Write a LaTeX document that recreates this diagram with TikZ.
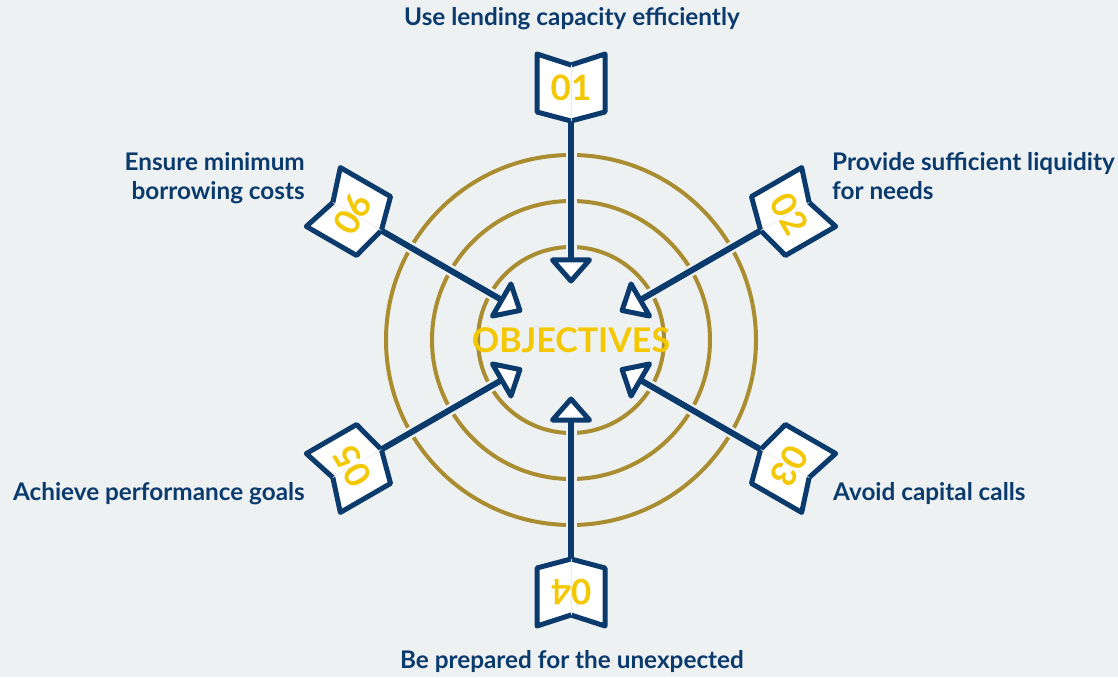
\documentclass[tikz,border=0pt]{standalone}
\usepackage{fontspec}
\setmainfont{Lato}
\definecolor{navy}{HTML}{0B3A6D}
\definecolor{ring}{HTML}{A98D30}
\definecolor{sunny}{HTML}{F4C800}
\definecolor{paper}{HTML}{EDF1F2}
\tikzset{
    label/.style={text=navy, font=\fontsize{24.3}{29}\selectfont\bfseries, inner sep=0pt},
    num/.style={text=sunny, font=\fontsize{35}{35}\selectfont\bfseries, inner sep=0pt, transform shape},
    banner/.style={draw=navy, fill=white, line width=5pt, line join=round},
    stem/.style={navy, line width=6pt},
    halo/.style={paper, line width=11pt}
}
\begin{document}
\begin{tikzpicture}[x=1pt, y=1pt]
        \useasboundingbox[fill=paper] (-571,-337) rectangle (547,340);

        % Rings
        \foreach \r in {93,139,185}
            \draw[ring, line width=4pt] (0,0) circle (\r);

        % Stems and open heads
        \foreach \a [count=\i] in {90,30,-30,-90,-150,150} {
            \coordinate (tip\i) at (\a:219);
            \coordinate (head\i) at (\a:80);
            \draw[halo] (tip\i) -- (head\i);
            \draw[stem] (tip\i) -- (head\i);
            \draw[banner, rotate=\a] (80,18.5) -- (80,-18.5) -- (59,0) -- cycle;
        }

        % Numbered banners
        \foreach \a [count=\i] in {90,30,-30,-90,-150,150} {
            \begin{scope}[shift={(\a:253)}, rotate=\a-90]
                \draw[banner] (-34,33) -- (0,22) -- (34,33) -- (34,-25) -- (0,-34) -- (-34,-25) -- cycle;
                \draw[black!8, line width=0.6pt] (0,22) -- (0,-34);
                \node[num] (num\i) at (0,-1) {0\i};
            \end{scope}
        }

        \node[text=sunny, font=\fontsize{34}{34}\selectfont\bfseries] (goal) at (0,0) {OBJECTIVES};

        % Labels
        \node[label, anchor=base] (lab1) at (1,314) {Use lending capacity efficiently};
        \node[label, anchor=base west, align=left] (lab2) at (261,140) {Provide sufficient liquidity\\for needs};
        \node[label, anchor=base west] (lab3) at (262,-160) {Avoid capital calls};
        \node[label, anchor=base] (lab4) at (1,-328) {Be prepared for the unexpected};
        \node[label, anchor=base east] (lab5) at (-266,-160) {Achieve performance goals};
        \node[label, anchor=base east, align=right] (lab6) at (-266,140) {Ensure minimum\\borrowing costs};
\end{tikzpicture}
\end{document}
